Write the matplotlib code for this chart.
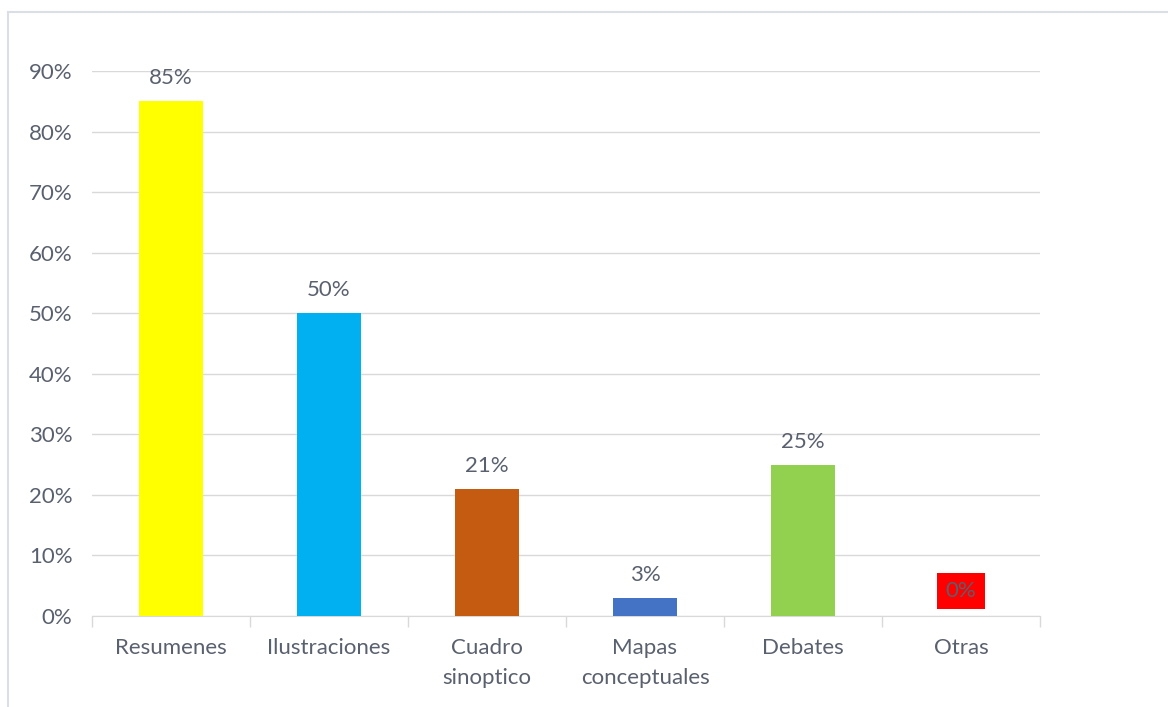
import matplotlib.pyplot as plt
from matplotlib.patches import Rectangle

categories = ['Resumenes', 'Ilustraciones', 'Cuadro\nsinoptico', 'Mapas\nconceptuales', 'Debates', 'Otras']
values = [0.85, 0.50, 0.21, 0.03, 0.25, 0.0]
labels = ['85%', '50%', '21%', '3%', '25%', '0%']
colors = ['#FFFF00', '#00B0F0', '#C55A11', '#4472C4', '#92D050', '#FF0000']

plt.rcParams['font.family'] = ['Lato', 'DejaVu Sans']
text_color = '#59606E'
grid_color = '#D9D9D9'
fs = 16

fig = plt.figure(figsize=(11.68, 7.07), dpi=100)
# outer chart frame (right / bottom edges run off the picture)
fig.patches.append(Rectangle((8 / 1168, -0.05), 1.2, 1 - 12 / 707 + 0.05,
                             transform=fig.transFigure, fill=False,
                             edgecolor='#DADEE6', linewidth=1.5))

ax = fig.add_axes([92 / 1168, 1 - 616 / 707, (1040 - 92) / 1168, (616 - 71) / 707])

x = list(range(len(categories)))
ax.bar(x, values, width=0.4, color=colors[:5] + ['none'], zorder=3)

for i, (v, lab) in enumerate(zip(values, labels)):
    if i == 5:
        # the "Otras" label carries the red fill instead of a bar
        ax.annotate(lab, (i, v), xytext=(0, 18), textcoords='offset points',
                    ha='center', va='center', fontsize=fs, color=text_color,
                    bbox=dict(boxstyle='square,pad=0.38', facecolor='#FF0000',
                              edgecolor='none'), zorder=4)
    else:
        ax.annotate(lab, (i, v), xytext=(0, 16.5), textcoords='offset points',
                    ha='center', va='center', fontsize=fs, color=text_color, zorder=4)

ax.set_xlim(-0.5, len(categories) - 0.5)
ax.set_ylim(0, 0.9)
ax.set_yticks([i / 10 for i in range(10)])
ax.set_yticklabels([f'{i * 10}%' for i in range(10)])
ax.yaxis.grid(True, color=grid_color, linewidth=1, zorder=0)
ax.set_axisbelow(True)

ax.set_xticks(x)
ax.set_xticklabels(categories, linespacing=1.6)
ax.set_xticks([i - 0.5 for i in range(len(categories) + 1)], minor=True)
ax.tick_params(axis='x', which='major', length=0, pad=16, labelsize=fs, labelcolor=text_color)
ax.tick_params(axis='x', which='minor', length=8, color=grid_color, width=1)
ax.tick_params(axis='y', length=0, pad=14, labelsize=fs, labelcolor=text_color)

for s in ['top', 'right', 'left']:
    ax.spines[s].set_visible(False)
ax.spines['bottom'].set_color(grid_color)

fig.savefig('out.png', dpi=100)
